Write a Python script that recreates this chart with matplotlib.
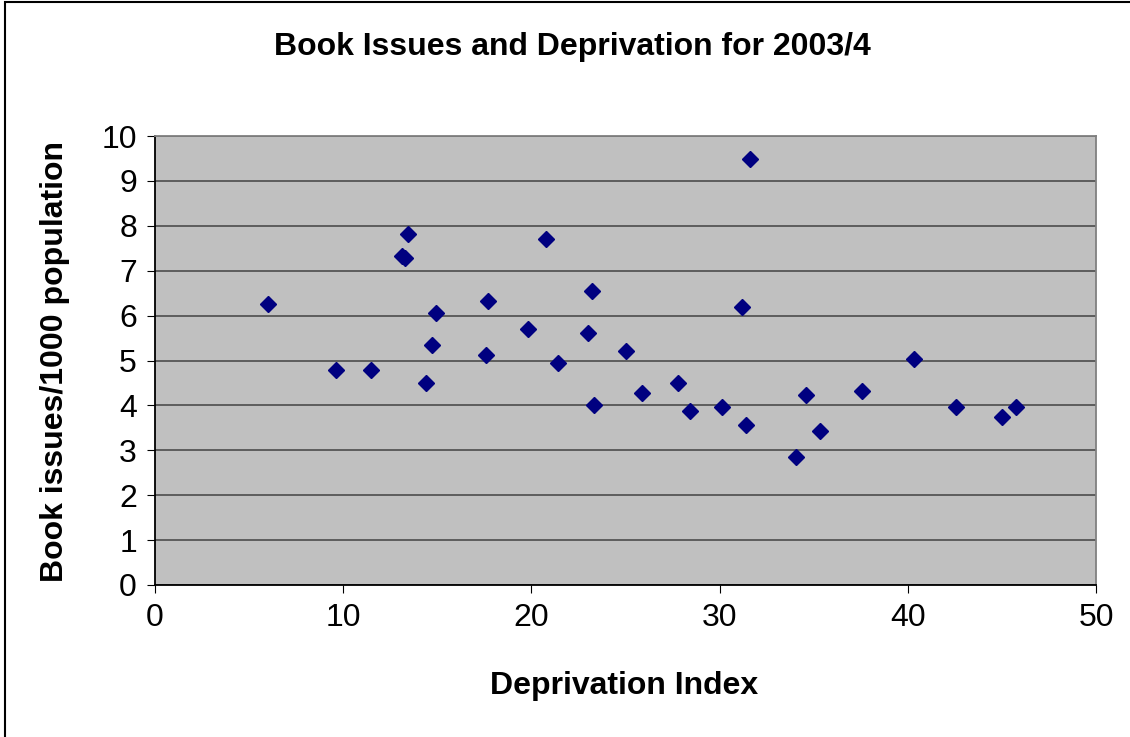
import matplotlib
matplotlib.use('Agg')
import matplotlib.pyplot as plt
from matplotlib.patches import Rectangle

# deprivation index vs book issues per 1000 population
deprivation = [6.0, 9.6, 11.5, 13.15, 13.3, 13.45, 14.4, 14.7, 14.93, 17.57,
               17.69, 19.8, 20.78, 21.43, 22.99, 23.22, 23.33, 25.04, 25.9,
               27.8, 28.44, 30.13, 31.2, 31.42, 31.6, 34.08, 34.6, 35.34,
               37.58, 40.35, 42.58, 45.02, 45.77]
issues = [6.26, 4.79, 4.79, 7.32, 7.28, 7.81, 4.5, 5.35, 6.06, 5.13,
          6.33, 5.71, 7.71, 4.95, 5.61, 6.55, 4.02, 5.22, 4.28,
          4.5, 3.88, 3.97, 6.2, 3.57, 9.49, 2.86, 4.23, 3.44,
          4.33, 5.03, 3.96, 3.74, 3.97]

xticks = [0, 10, 20, 30, 40, 50]
yticks = list(range(0, 11))

plt.rcParams['font.family'] = ['Liberation Sans', 'DejaVu Sans']

fig = plt.figure(figsize=(11.3, 7.37), dpi=100)
# outer chart border (right and bottom edges run off the picture)
fig.patches.append(Rectangle((5 / 1130, -0.1), 1.2, 1.1 - 2 / 737,
                             transform=fig.transFigure, fill=False,
                             edgecolor='black', lw=1.5))

ax = fig.add_axes([155 / 1130, 1 - 585 / 737, (1096 - 155) / 1130, (585 - 136) / 737])
ax.set_facecolor('#c0c0c0')

ax.plot(deprivation, issues, linestyle='none', marker='D', markersize=8.5,
        color='#000080', zorder=3)

ax.set_xlim(0, 50)
ax.set_ylim(0, 10)
ax.set_xticks(xticks)
ax.set_yticks(yticks)
ax.tick_params(labelsize=23, length=6, direction='out', color='black', pad=7)
ax.yaxis.grid(True, color='#555555', lw=1.3)
ax.set_axisbelow(True)

for side in ['left', 'bottom']:
    ax.spines[side].set_color('black')
    ax.spines[side].set_linewidth(1.3)
for side in ['top', 'right']:
    ax.spines[side].set_color('#808080')
    ax.spines[side].set_linewidth(1.3)

fig.text(572 / 1130, 1 - 47 / 737, 'Book Issues and Deprivation for 2003/4',
         ha='center', va='center', fontsize=23, fontweight='bold')
fig.text(624 / 1130, 1 - 686 / 737, 'Deprivation Index',
         ha='center', va='center', fontsize=23, fontweight='bold')
fig.text(55 / 1130, 1 - 362 / 737, 'Book issues/1000 population',
         ha='center', va='center', fontsize=23, fontweight='bold', rotation=90)

fig.savefig('out.png', dpi=100)
